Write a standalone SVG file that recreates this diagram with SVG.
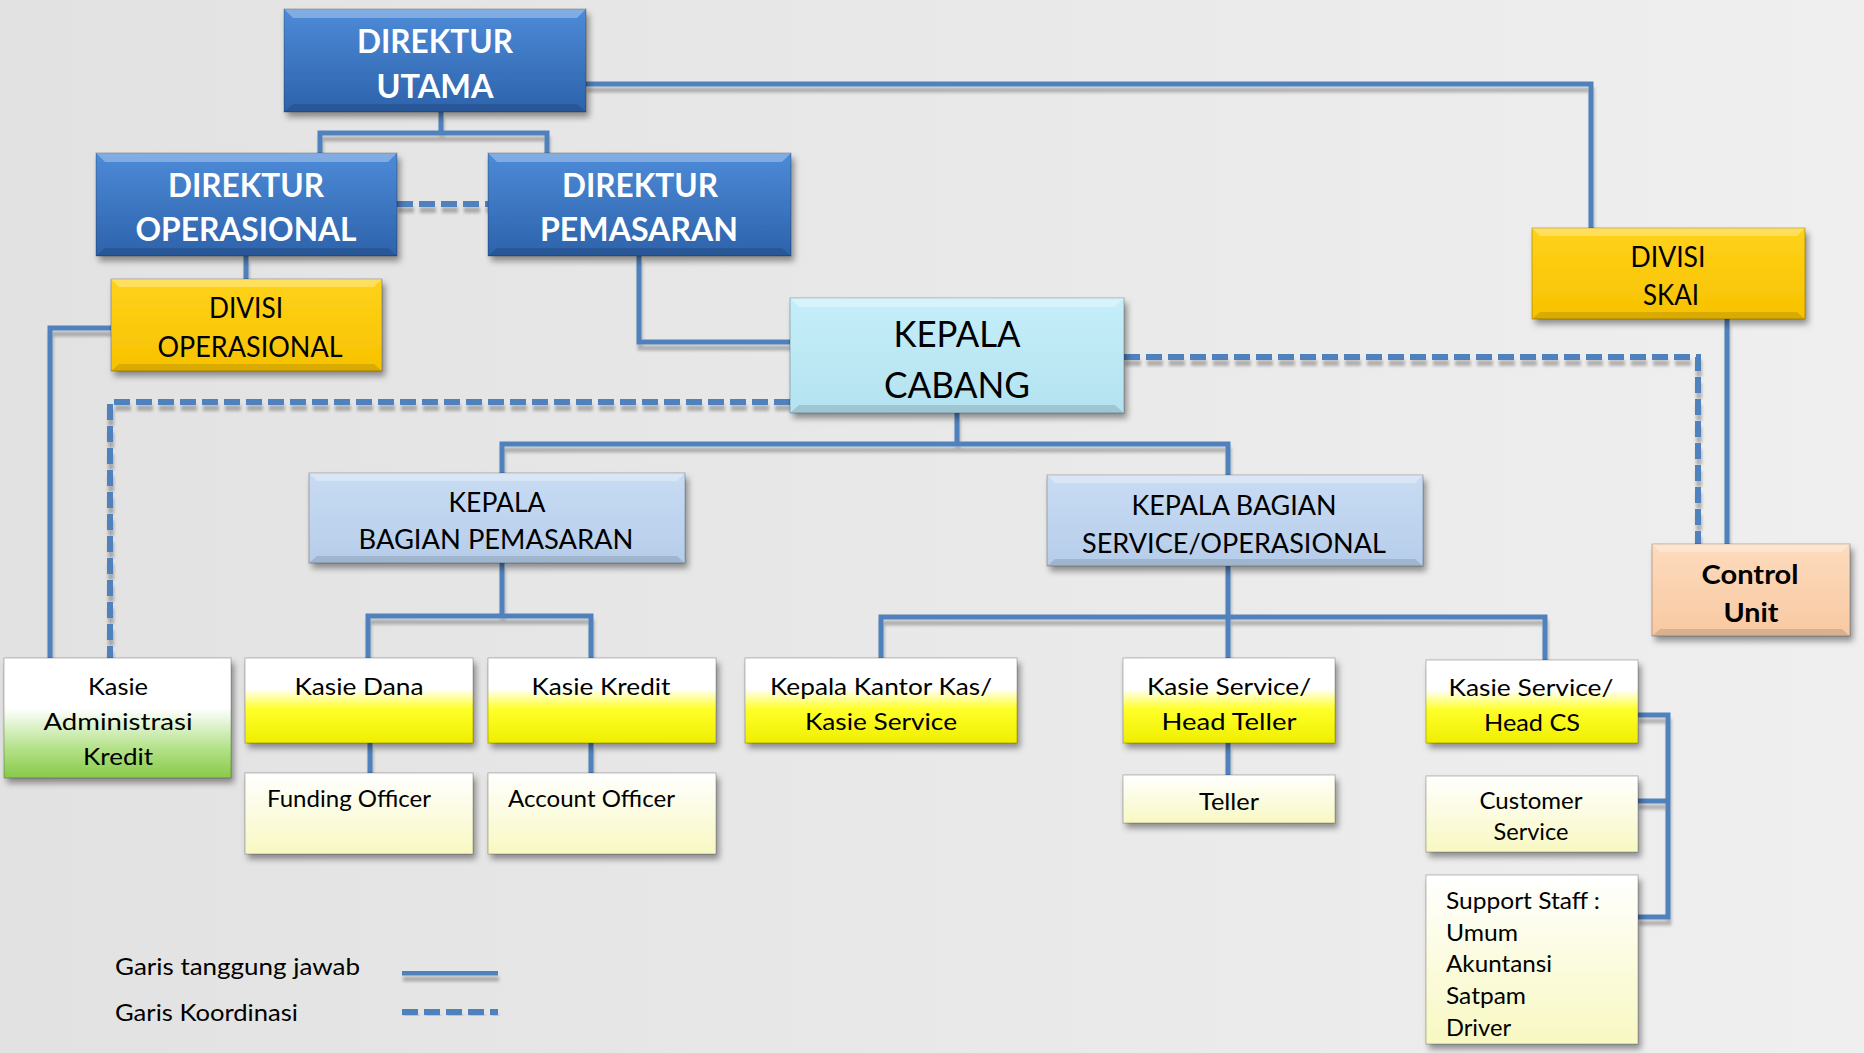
<svg xmlns="http://www.w3.org/2000/svg" width="1864" height="1053" viewBox="0 0 1864 1053">
<defs>
<linearGradient id="bg" x1="0" y1="0" x2="1" y2="0"><stop offset="0" stop-color="#e2e2e2"/><stop offset="1" stop-color="#efefef"/></linearGradient>
<linearGradient id="gBlue" x1="0" y1="0" x2="0" y2="1"><stop offset="0" stop-color="#4d8bd8"/><stop offset="1" stop-color="#2d62ab"/></linearGradient>
<linearGradient id="gGold" x1="0" y1="0" x2="0" y2="1"><stop offset="0" stop-color="#ffd21a"/><stop offset="1" stop-color="#f7c200"/></linearGradient>
<linearGradient id="gCyan" x1="0" y1="0" x2="0" y2="1"><stop offset="0" stop-color="#c5eff9"/><stop offset="1" stop-color="#b4e2f0"/></linearGradient>
<linearGradient id="gLB" x1="0" y1="0" x2="0" y2="1"><stop offset="0" stop-color="#c8dcf3"/><stop offset="1" stop-color="#b6cdea"/></linearGradient>
<linearGradient id="gPeach" x1="0" y1="0" x2="0" y2="1"><stop offset="0" stop-color="#fddbbd"/><stop offset="1" stop-color="#f8c9a2"/></linearGradient>
<linearGradient id="gYel" x1="0" y1="0" x2="0" y2="1"><stop offset="0" stop-color="#ffffff"/><stop offset="0.36" stop-color="#ffffff"/><stop offset="0.6" stop-color="#ffff2a"/><stop offset="1" stop-color="#eeee00"/></linearGradient>
<linearGradient id="gGreen" x1="0" y1="0" x2="0" y2="1"><stop offset="0" stop-color="#ffffff"/><stop offset="0.42" stop-color="#ffffff"/><stop offset="0.75" stop-color="#b4e28a"/><stop offset="1" stop-color="#88c948"/></linearGradient>
<linearGradient id="gPale" x1="0" y1="0" x2="0" y2="1"><stop offset="0" stop-color="#ffffff"/><stop offset="1" stop-color="#f8f8c2"/></linearGradient>
<filter id="sh" x="-10%" y="-10%" width="125%" height="135%"><feDropShadow dx="3" dy="5" stdDeviation="3" flood-color="#000" flood-opacity="0.4"/></filter>
<filter id="lsh" x="-5%" y="-5%" width="110%" height="115%"><feDropShadow dx="1" dy="6" stdDeviation="1.5" flood-color="#000" flood-opacity="0.25"/></filter>
</defs>
<style>
.ln{fill:none;stroke:#4f81bd;stroke-width:5}
.dl{fill:none;stroke:#4f81bd;stroke-width:6;stroke-dasharray:16 6}
.box{filter:url(#sh);stroke:rgba(0,0,0,0.25);stroke-width:1}
.hi{fill:#fff;opacity:0.3}
.lo{fill:#000;opacity:0.12}
text{font-family:Lato,"Open Sans","Liberation Sans",sans-serif;fill:#000}
.tb{font-weight:bold;fill:#fff;font-size:32px;text-anchor:middle}
.td{font-size:28px;text-anchor:middle}
.tk{font-size:26px;text-anchor:middle}
.tc{font-size:36px;text-anchor:middle}
.ts{font-size:24px;text-anchor:middle}
.tl{font-size:24px}
.tu{font-size:26px;font-weight:bold;text-anchor:middle}
</style>
<rect x="0" y="0" width="1864" height="1053" fill="url(#bg)"/>

<g id="connectors" filter="url(#lsh)">
<path class="ln" d="M320,153 V133 H547 V153 M441,112 V133"/>
<path class="ln" d="M586,84 H1591 V228"/>
<path class="ln" d="M246,256 V279"/>
<path class="ln" d="M111,328 H50 V658"/>
<path class="ln" d="M639,256 V342 H790"/>
<path class="ln" d="M957,413 V444 M502,473 V444 H1228 V475"/>
<path class="ln" d="M502,563 V616 M368,658 V616 H591 V658"/>
<path class="ln" d="M1228,566 V658 M881,658 V617 H1545 V660"/>
<path class="ln" d="M370,743 V773 M591,743 V773"/>
<path class="ln" d="M1228,743 V775"/>
<path class="ln" d="M1727,319 V544"/>
<path class="ln" d="M1638,715 H1668 V917 H1638 M1638,801 H1668"/>
<path class="dl" d="M397,204 H488"/>
<path class="dl" d="M790,402 H110 V658"/>
<path class="dl" d="M1124,357 H1698 V544"/>
</g>

<g id="n-direktur-utama">
<rect class="box" x="284" y="9" width="302" height="103" fill="url(#gBlue)"/>
<polygon class="hi" points="284,9 586,9 577,18 293,18"/>
<polygon class="lo" points="284,112 586,112 577,104 293,104"/>
<text class="tb" x="435" y="53" textLength="156" lengthAdjust="spacingAndGlyphs">DIREKTUR</text>
<text class="tb" x="435" y="98" textLength="117" lengthAdjust="spacingAndGlyphs">UTAMA</text>
</g>

<g id="n-direktur-operasional">
<rect class="box" x="96" y="153" width="301" height="103" fill="url(#gBlue)"/>
<polygon class="hi" points="96,153 397,153 388,162 105,162"/>
<polygon class="lo" points="96,256 397,256 388,248 105,248"/>
<text class="tb" x="246" y="197" textLength="156" lengthAdjust="spacingAndGlyphs">DIREKTUR</text>
<text class="tb" x="246" y="241" textLength="221" lengthAdjust="spacingAndGlyphs">OPERASIONAL</text>
</g>

<g id="n-direktur-pemasaran">
<rect class="box" x="488" y="153" width="303" height="103" fill="url(#gBlue)"/>
<polygon class="hi" points="488,153 791,153 782,162 497,162"/>
<polygon class="lo" points="488,256 791,256 782,248 497,248"/>
<text class="tb" x="640" y="197" textLength="156" lengthAdjust="spacingAndGlyphs">DIREKTUR</text>
<text class="tb" x="639" y="241" textLength="198" lengthAdjust="spacingAndGlyphs">PEMASARAN</text>
</g>

<g id="n-divisi-operasional">
<rect class="box" x="111" y="279" width="271" height="92" fill="url(#gGold)"/>
<polygon class="hi" points="111,279 382,279 374,287 119,287"/>
<polygon class="lo" points="111,371 382,371 374,364 119,364"/>
<text class="td" x="246" y="318" textLength="74" lengthAdjust="spacingAndGlyphs">DIVISI</text>
<text class="td" x="250" y="357" textLength="185" lengthAdjust="spacingAndGlyphs">OPERASIONAL</text>
</g>

<g id="n-kepala-cabang">
<rect class="box" x="790" y="298" width="334" height="115" fill="url(#gCyan)"/>
<polygon class="hi" points="790,298 1124,298 1115,307 799,307"/>
<polygon class="lo" points="790,413 1124,413 1115,405 799,405"/>
<text class="tc" x="957" y="347" textLength="127" lengthAdjust="spacingAndGlyphs">KEPALA</text>
<text class="tc" x="957" y="398" textLength="146" lengthAdjust="spacingAndGlyphs">CABANG</text>
</g>

<g id="n-divisi-skai">
<rect class="box" x="1532" y="228" width="273" height="91" fill="url(#gGold)"/>
<polygon class="hi" points="1532,228 1805,228 1797,236 1540,236"/>
<polygon class="lo" points="1532,319 1805,319 1797,312 1540,312"/>
<text class="td" x="1668" y="267" textLength="75" lengthAdjust="spacingAndGlyphs">DIVISI</text>
<text class="td" x="1671" y="305" textLength="56" lengthAdjust="spacingAndGlyphs">SKAI</text>
</g>

<g id="n-kepala-bagian-pemasaran">
<rect class="box" x="309" y="473" width="376" height="90" fill="url(#gLB)"/>
<polygon class="hi" points="309,473 685,473 677,481 317,481"/>
<polygon class="lo" points="309,563 685,563 677,556 317,556"/>
<text class="tk" x="497" y="512" textLength="97" lengthAdjust="spacingAndGlyphs">KEPALA</text>
<text class="tk" x="496" y="549" textLength="275" lengthAdjust="spacingAndGlyphs">BAGIAN PEMASARAN</text>
</g>

<g id="n-kepala-bagian-service">
<rect class="box" x="1047" y="475" width="376" height="91" fill="url(#gLB)"/>
<polygon class="hi" points="1047,475 1423,475 1415,483 1055,483"/>
<polygon class="lo" points="1047,566 1423,566 1415,559 1055,559"/>
<text class="tk" x="1234" y="515" textLength="205" lengthAdjust="spacingAndGlyphs">KEPALA BAGIAN</text>
<text class="tk" x="1234" y="553" textLength="304" lengthAdjust="spacingAndGlyphs">SERVICE/OPERASIONAL</text>
</g>

<g id="n-control-unit">
<rect class="box" x="1652" y="544" width="198" height="92" fill="url(#gPeach)"/>
<polygon class="hi" points="1652,544 1850,544 1842,552 1660,552"/>
<polygon class="lo" points="1652,636 1850,636 1842,629 1660,629"/>
<text class="tu" x="1750" y="584" textLength="97" lengthAdjust="spacingAndGlyphs">Control</text>
<text class="tu" x="1751" y="622" textLength="55" lengthAdjust="spacingAndGlyphs">Unit</text>
</g>

<g id="n-kasie-administrasi-kredit">
<rect class="box" x="4" y="658" width="227" height="120" fill="url(#gGreen)"/>
<text class="ts" x="118" y="695" textLength="60" lengthAdjust="spacingAndGlyphs">Kasie</text>
<text class="ts" x="118" y="730" textLength="149" lengthAdjust="spacingAndGlyphs">Administrasi</text>
<text class="ts" x="118" y="765" textLength="70" lengthAdjust="spacingAndGlyphs">Kredit</text>
</g>

<g id="n-kasie-dana">
<rect class="box" x="245" y="658" width="228" height="85" fill="url(#gYel)"/>
<text class="ts" x="359" y="695" textLength="129" lengthAdjust="spacingAndGlyphs">Kasie Dana</text>
</g>

<g id="n-kasie-kredit">
<rect class="box" x="488" y="658" width="228" height="85" fill="url(#gYel)"/>
<text class="ts" x="601" y="695" textLength="139" lengthAdjust="spacingAndGlyphs">Kasie Kredit</text>
</g>

<g id="n-kepala-kantor-kas">
<rect class="box" x="745" y="658" width="272" height="85" fill="url(#gYel)"/>
<text class="ts" x="881" y="695" textLength="222" lengthAdjust="spacingAndGlyphs">Kepala Kantor Kas/</text>
<text class="ts" x="881" y="730" textLength="152" lengthAdjust="spacingAndGlyphs">Kasie Service</text>
</g>

<g id="n-kasie-service-head-teller">
<rect class="box" x="1123" y="658" width="212" height="85" fill="url(#gYel)"/>
<text class="ts" x="1229" y="695" textLength="164" lengthAdjust="spacingAndGlyphs">Kasie Service/</text>
<text class="ts" x="1229" y="730" textLength="135" lengthAdjust="spacingAndGlyphs">Head Teller</text>
</g>

<g id="n-kasie-service-head-cs">
<rect class="box" x="1426" y="660" width="212" height="83" fill="url(#gYel)"/>
<text class="ts" x="1531" y="696" textLength="165" lengthAdjust="spacingAndGlyphs">Kasie Service/</text>
<text class="ts" x="1532" y="731" textLength="96" lengthAdjust="spacingAndGlyphs">Head CS</text>
</g>

<g id="n-funding-officer">
<rect class="box" x="245" y="773" width="228" height="81" fill="url(#gPale)"/>
<text class="tl" x="267" y="807" textLength="164" lengthAdjust="spacingAndGlyphs">Funding Officer</text>
</g>

<g id="n-account-officer">
<rect class="box" x="488" y="773" width="228" height="81" fill="url(#gPale)"/>
<text class="tl" x="508" y="807" textLength="167" lengthAdjust="spacingAndGlyphs">Account Officer</text>
</g>

<g id="n-teller">
<rect class="box" x="1123" y="775" width="212" height="48" fill="url(#gPale)"/>
<text class="ts" x="1229" y="810" textLength="60" lengthAdjust="spacingAndGlyphs">Teller</text>
</g>

<g id="n-customer-service">
<rect class="box" x="1426" y="776" width="212" height="76" fill="url(#gPale)"/>
<text class="ts" x="1531" y="809" textLength="103" lengthAdjust="spacingAndGlyphs">Customer</text>
<text class="ts" x="1531" y="840" textLength="75" lengthAdjust="spacingAndGlyphs">Service</text>
</g>

<g id="n-support-staff">
<rect class="box" x="1426" y="875" width="212" height="169" fill="url(#gPale)"/>
<text class="tl" x="1446" y="909" textLength="154" lengthAdjust="spacingAndGlyphs">Support Staff :</text>
<text class="tl" x="1446" y="941" textLength="72" lengthAdjust="spacingAndGlyphs">Umum</text>
<text class="tl" x="1446" y="972" textLength="106" lengthAdjust="spacingAndGlyphs">Akuntansi</text>
<text class="tl" x="1446" y="1004" textLength="80" lengthAdjust="spacingAndGlyphs">Satpam</text>
<text class="tl" x="1446" y="1036" textLength="65" lengthAdjust="spacingAndGlyphs">Driver</text>
</g>

<g id="legend">
<text class="tl" x="115" y="975" textLength="245" lengthAdjust="spacingAndGlyphs">Garis tanggung jawab</text>
<text class="tl" x="115" y="1021" textLength="183" lengthAdjust="spacingAndGlyphs">Garis Koordinasi</text>
<g filter="url(#lsh)">
<path class="ln" d="M402,973 H498"/>
<path class="dl" d="M402,1012 H498"/>
</g>
</g>
</svg>
